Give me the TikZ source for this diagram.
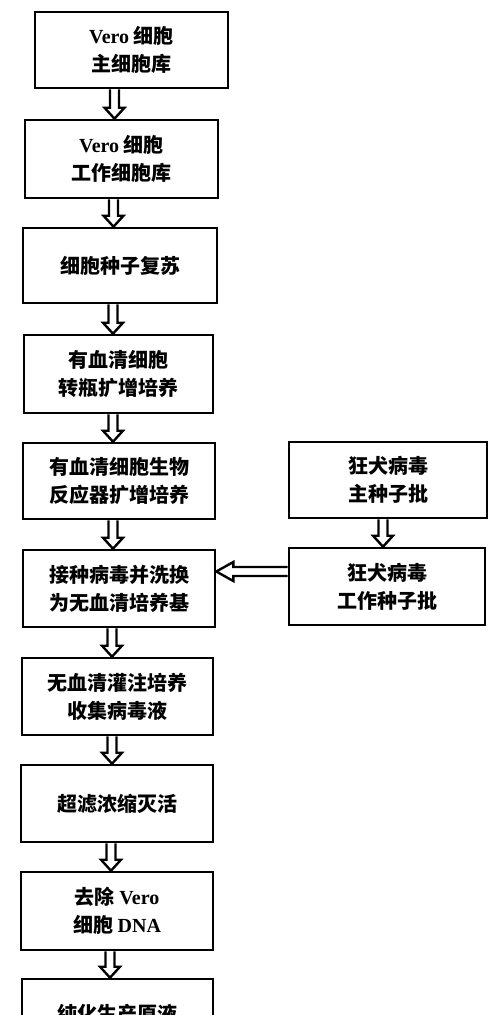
\documentclass[tikz,border=0pt]{standalone}
\usepackage{fontspec}
\newfontfamily\cjk{Noto Sans CJK SC}
\newfontfamily\lat{Liberation Serif}
\usetikzlibrary{calc}
\newcommand\V{{\lat\bfseries Vero}}
\newcommand\D{{\lat\bfseries DNA}}
\newcommand\varrow[2]{%
  \draw[arrowline] ($(#1)+(-4.5,0)$) -- ($(#2)+(-4.5,-11)$) -- ($(#2)+(-10,-11)$) -- (#2)
   -- ($(#2)+(10,-11)$) -- ($(#2)+(4.5,-11)$) -- ($(#1)+(4.5,0)$);}
\newcommand\harrow[2]{%
  \draw[arrowline] ($(#1)+(0,-4.5)$) -- ($(#2)+(17,-4.5)$) -- ($(#2)+(17,-9.5)$) -- (#2)
   -- ($(#2)+(17,9.5)$) -- ($(#2)+(17,4.5)$) -- ($(#1)+(0,4.5)$);}
\tikzset{
  box/.style={draw, line width=2.6pt, inner sep=0pt, align=center,
    font=\cjk\bfseries\fontsize{20}{28}\selectfont},
  arrowline/.style={line width=2.4pt, line join=miter}
}
\begin{document}
\begin{tikzpicture}[x=1pt,y=-1pt]
\useasboundingbox (0,0) rectangle (500,1015);
\clip (0,0) rectangle (500,1015);
\fill[white] (0,0) rectangle (500,1015);
\node[box, minimum width=193pt, minimum height=76pt] (b1) at (131.5,50) {\V\ 细胞\\主细胞库};
\node[box, minimum width=193pt, minimum height=78pt] (b2) at (121.5,159) {\V\ 细胞\\工作细胞库};
\node[box, minimum width=194pt, minimum height=75pt] (b3) at (120,265.5) {细胞种子复苏};
\node[box, minimum width=189pt, minimum height=78pt] (b4) at (118.5,374) {有血清细胞\\转瓶扩增培养};
\node[box, minimum width=192pt, minimum height=76pt] (b5) at (119,481) {有血清细胞生物\\反应器扩增培养};
\node[box, minimum width=192pt, minimum height=77pt] (b6) at (119,588.5) {接种病毒并洗换\\为无血清培养基};
\node[box, minimum width=191pt, minimum height=77pt] (b7) at (117.5,696.5) {无血清灌注培养\\收集病毒液};
\node[box, minimum width=192pt, minimum height=77pt] (b8) at (117,803.5) {超滤浓缩灭活};
\node[box, minimum width=192pt, minimum height=78pt] (b9) at (117,911) {去除 \V\\细胞 \D};
\node[box, minimum width=191pt, minimum height=70pt] (b10) at (117.5,1014) {纯化生产原液};
\node[box, minimum width=198pt, minimum height=76pt] (ra) at (388,480) {狂犬病毒\\主种子批};
\node[box, minimum width=196pt, minimum height=77pt] (rb) at (387,586.5) {狂犬病毒\\工作种子批};
\coordinate (x1) at (114.5,0);
\coordinate (x2) at (113.5,0);
\coordinate (x3) at (113,0);
\coordinate (x4) at (113,0);
\coordinate (x5) at (113,0);
\coordinate (x6) at (112,0);
\coordinate (x7) at (112,0);
\coordinate (x8) at (111,0);
\coordinate (x9) at (110,0);
\coordinate (xr) at (383,0);
\coordinate (yh) at (0,571.5);
\varrow{b1.south -| x1}{b2.north -| x1}
\varrow{b2.south -| x2}{b3.north -| x2}
\varrow{b3.south -| x3}{b4.north -| x3}
\varrow{b4.south -| x4}{b5.north -| x4}
\varrow{b5.south -| x5}{b6.north -| x5}
\varrow{b6.south -| x6}{b7.north -| x6}
\varrow{b7.south -| x7}{b8.north -| x7}
\varrow{b8.south -| x8}{b9.north -| x8}
\varrow{b9.south -| x9}{b10.north -| x9}
\varrow{ra.south -| xr}{rb.north -| xr}
\harrow{rb.west |- yh}{b6.east |- yh}
\end{tikzpicture}
\end{document}
